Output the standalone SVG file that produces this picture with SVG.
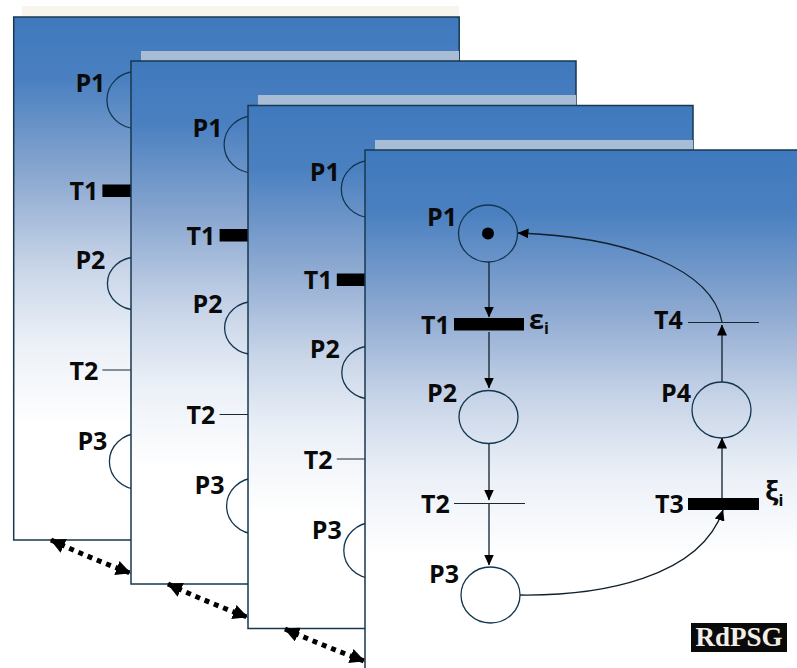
<svg xmlns="http://www.w3.org/2000/svg" width="797" height="668" viewBox="0 0 797 668">
<style>
text{font-family:"Open Sans","Noto Sans","Liberation Sans",sans-serif;font-weight:700;font-size:25px;fill:#0a0a0a}
.panel{fill:url(#g);stroke:#17384f;stroke-width:1.5}
.strip{fill:#a9bcd6}
.place{fill:none;stroke:#12354f;stroke-width:1.3}
.bar{fill:#000}
.thin{stroke:#1a2a35;stroke-width:1.2}
.arc{fill:none;stroke:#10202c;stroke-width:1.3}
.dbl{fill:none;stroke:#000;stroke-width:5;stroke-dasharray:5 5}
</style>
<defs>
<linearGradient id="g" x1="0" y1="0" x2="0" y2="1">
<stop offset="0" stop-color="#3f79bd"/>
<stop offset=".12" stop-color="#4a80c0"/>
<stop offset=".3" stop-color="#8aa7d0"/>
<stop offset=".47" stop-color="#c6d3e7"/>
<stop offset=".62" stop-color="#ebf0f7"/>
<stop offset=".78" stop-color="#ffffff"/>
</linearGradient>
<marker id="a" markerUnits="userSpaceOnUse" markerWidth="11" markerHeight="10" refX="10.5" refY="5" orient="auto"><path d="M0 0L11 5L0 10z" fill="#000"/></marker>
<marker id="d" markerUnits="userSpaceOnUse" markerWidth="15" markerHeight="15" refX="14" refY="7.5" orient="auto-start-reverse"><path d="M0 0L15 7.5L0 15z" fill="#000"/></marker>
</defs>

<rect x="22" y="6" width="437" height="10" fill="#f8f5ec"/>
<rect class="panel" x="13.7" y="17" width="445.5" height="523"/>
<g id="p1-layer" transform="translate(-351.6 -133.5)">
<g id="a-P1"><ellipse class="place" cx="488" cy="233.5" rx="29.5" ry="28.5"/><text x="427" y="225.500">P1</text></g>
<g id="a-T1"><rect class="bar" x="454" y="318" width="70" height="12.500"/><text x="421" y="333.500">T1</text></g>
<g id="a-P2"><ellipse class="place" cx="488.500" cy="417" rx="29.500" ry="26.500"/><text x="427" y="402">P2</text></g>
<g id="a-T2"><line class="thin" x1="454" y1="503.500" x2="525" y2="503.500"/><text x="421" y="513">T2</text></g>
<g id="a-P3"><ellipse class="place" cx="490.500" cy="595" rx="29.500" ry="28"/><text x="429" y="583">P3</text></g>
</g>

<rect class="strip" x="141" y="51" width="318" height="10"/>
<rect class="panel" x="131" y="61" width="445" height="523"/>
<g id="p2-layer" transform="translate(-234.400 -89)">
<g id="b-P1"><ellipse class="place" cx="488" cy="233.5" rx="29.5" ry="28.5"/><text x="427" y="225.500">P1</text></g>
<g id="b-T1"><rect class="bar" x="454" y="318" width="70" height="12.500"/><text x="421" y="333.500">T1</text></g>
<g id="b-P2"><ellipse class="place" cx="488.500" cy="417" rx="29.500" ry="26.500"/><text x="427" y="402">P2</text></g>
<g id="b-T2"><line class="thin" x1="454" y1="503.500" x2="525" y2="503.500"/><text x="421" y="513">T2</text></g>
<g id="b-P3"><ellipse class="place" cx="490.500" cy="595" rx="29.500" ry="28"/><text x="429" y="583">P3</text></g>
</g>

<rect class="strip" x="258" y="95" width="318" height="11"/>
<rect class="panel" x="248" y="105.500" width="445" height="523"/>
<g id="p3-layer" transform="translate(-117.200 -44.500)">
<g id="c-P1"><ellipse class="place" cx="488" cy="233.5" rx="29.5" ry="28.5"/><text x="427" y="225.500">P1</text></g>
<g id="c-T1"><rect class="bar" x="454" y="318" width="70" height="12.500"/><text x="421" y="333.500">T1</text></g>
<g id="c-P2"><ellipse class="place" cx="488.500" cy="417" rx="29.500" ry="26.500"/><text x="427" y="402">P2</text></g>
<g id="c-T2"><line class="thin" x1="454" y1="503.500" x2="525" y2="503.500"/><text x="421" y="513">T2</text></g>
<g id="c-P3"><ellipse class="place" cx="490.500" cy="595" rx="29.500" ry="28"/><text x="429" y="583">P3</text></g>
</g>

<rect class="strip" x="375" y="140" width="318" height="10"/>
<rect class="panel" x="365" y="150" width="445" height="523"/>

<g id="connectors">
<path class="arc" d="M489 262V317" marker-end="url(#a)"/>
<path class="arc" d="M489 332V388" marker-end="url(#a)"/>
<path class="arc" d="M489 444V500" marker-end="url(#a)"/>
<path class="arc" d="M489 504V565" marker-end="url(#a)"/>
<path class="arc" d="M520 595C600 596 700 578 723 510" marker-end="url(#a)"/>
<path class="arc" d="M722 498V438" marker-end="url(#a)"/>
<path class="arc" d="M722 382V325" marker-end="url(#a)"/>
<path class="arc" d="M722 322C712 270 630 237 518 233" marker-end="url(#a)"/>
<path class="dbl" d="M51 540Q90 558 130 573" marker-start="url(#d)" marker-end="url(#d)"/>
<path class="dbl" d="M168 584Q207 602 247 617" marker-start="url(#d)" marker-end="url(#d)"/>
<path class="dbl" d="M285 629Q324 646 364 661" marker-start="url(#d)" marker-end="url(#d)"/>
</g>

<g id="P1"><ellipse class="place" cx="488" cy="233.5" rx="29.5" ry="28.5"/><circle cx="488" cy="233.500" r="6" fill="#000"/><text x="427" y="225.500">P1</text></g>
<g id="T1"><rect class="bar" x="454" y="318" width="70" height="12.500"/><text x="421" y="333.500">T1</text><text x="529" y="329" style="font-size:27px">ε<tspan style="font-size:16px" dy="5">i</tspan></text></g>
<g id="P2"><ellipse class="place" cx="488.500" cy="417" rx="29.500" ry="26.500"/><text x="427" y="402">P2</text></g>
<g id="T2"><line class="thin" x1="454" y1="503.500" x2="525" y2="503.500"/><text x="421" y="513">T2</text></g>
<g id="P3"><ellipse class="place" cx="490.500" cy="595" rx="29.500" ry="28"/><text x="429" y="583">P3</text></g>
<g id="T3"><rect class="bar" x="688" y="498" width="71" height="12"/><text x="655" y="513">T3</text><text x="765" y="500" style="font-size:27px">ξ<tspan style="font-size:16px" dy="6">i</tspan></text></g>
<g id="P4"><ellipse class="place" cx="721.500" cy="410" rx="29.500" ry="28"/><text x="661" y="402">P4</text></g>
<g id="T4"><line class="thin" x1="688" y1="322.500" x2="759" y2="322.500"/><text x="654" y="329">T4</text></g>
<g id="logo"><rect x="691" y="623" width="96" height="29" fill="#0a0a0a"/><text x="739" y="645.500" text-anchor="middle" style="font-family:'Liberation Serif',serif;font-size:27px;fill:#f3efe6;font-weight:700">RdPSG</text></g>
</svg>
